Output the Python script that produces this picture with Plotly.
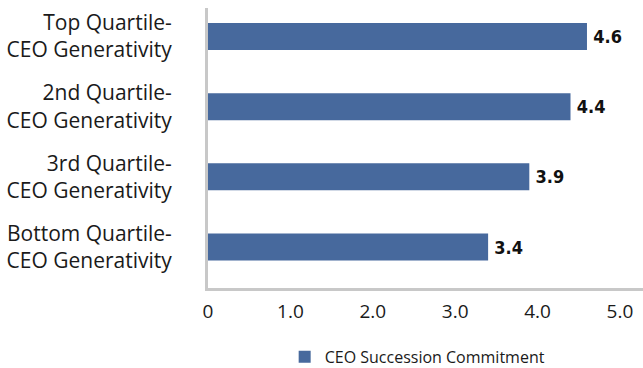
import plotly.graph_objects as go

# Quartile groups (top to bottom) and their mean succession-commitment score
categories = [
    "Top Quartile-<br>CEO Generativity",
    "2nd Quartile-<br>CEO Generativity",
    "3rd Quartile-<br>CEO Generativity",
    "Bottom Quartile-<br>CEO Generativity",
]
values = [4.6, 4.4, 3.9, 3.4]
value_labels = ["4.6", "4.4", "3.9", "3.4"]
series_name = "CEO Succession Commitment"
x_tick_vals = [0, 1, 2, 3, 4, 5]
x_tick_text = ["0", "1.0", "2.0", "3.0", "4.0", "5.0"]

BAR = "#47699D"
AXIS = "#C8C8C8"
TEXT_FONT = "Open Sans"
LABEL_FONT = "DejaVu Sans Condensed, Liberation Sans Narrow, Roboto Condensed, sans-serif"

fig = go.Figure(
    go.Bar(
        y=categories,
        x=values,
        orientation="h",
        name=series_name,
        marker=dict(color=BAR, line=dict(width=0)),
        width=0.385,
        text=value_labels,
        texttemplate="\u2009%{text}",
        textposition="outside",
        cliponaxis=False,
        textfont=dict(family=LABEL_FONT, size=18, color="#111111", weight="bold"),
        showlegend=True,
    )
)

fig.update_layout(
    width=643,
    height=368,
    margin=dict(l=208, r=0, t=8, b=80, autoexpand=False),
    paper_bgcolor="white",
    plot_bgcolor="white",
    font=dict(family=TEXT_FONT, color="#1a1a1a"),
    xaxis=dict(
        range=[0, 5.28],
        tickvals=x_tick_vals,
        ticktext=x_tick_text,
        showgrid=False,
        zeroline=False,
        showline=True,
        linecolor=AXIS,
        linewidth=3,
        ticks="",
        ticklabelstandoff=4,
        tickfont=dict(family=TEXT_FONT, size=19, color="#1a1a1a"),
    ),
    yaxis=dict(
        categoryorder="array",
        categoryarray=categories[::-1],
        range=[-0.584, 3.406],
        showgrid=False,
        zeroline=False,
        showline=True,
        linecolor=AXIS,
        linewidth=3,
        ticks="",
        ticklabelstandoff=29,
        tickfont=dict(family=TEXT_FONT, size=21, color="#1a1a1a"),
    ),
    legend=dict(
        orientation="h",
        x=0.482,
        xanchor="center",
        yref="container",
        y=0.03,
        yanchor="middle",
        font=dict(family=TEXT_FONT, size=16, color="#1a1a1a"),
        itemwidth=30,
    ),
)

fig.write_html("out.html")
